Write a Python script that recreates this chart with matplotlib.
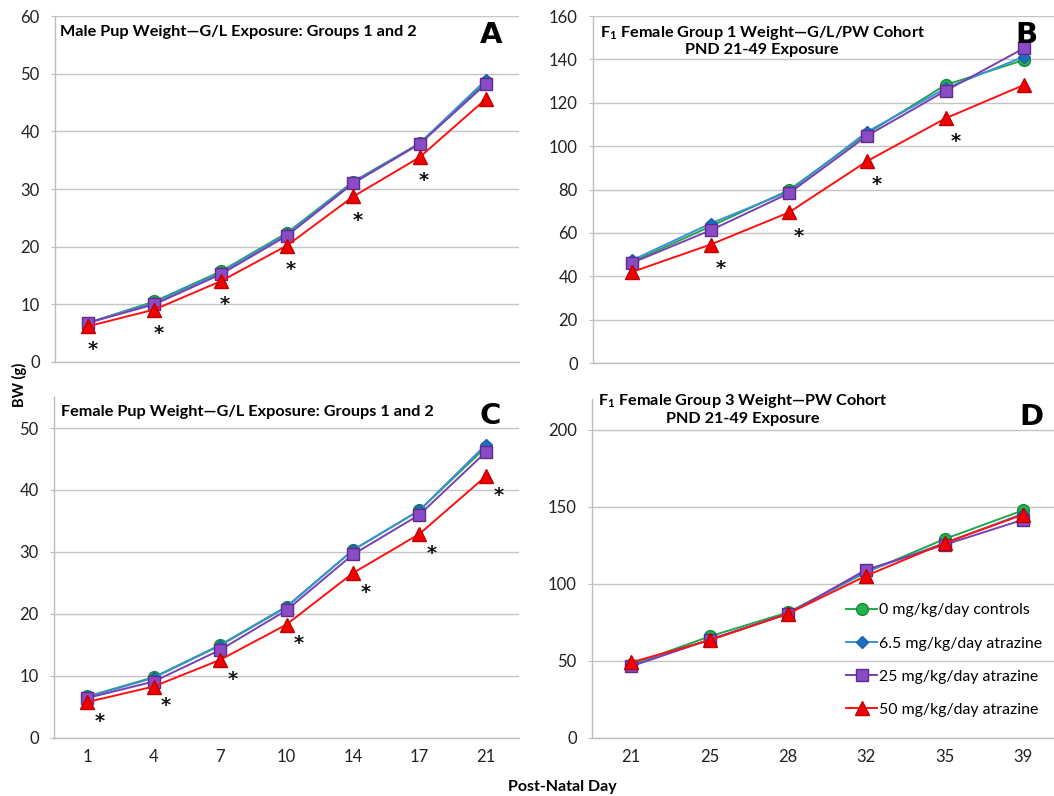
import matplotlib
matplotlib.use("Agg")
import matplotlib.pyplot as plt
from matplotlib.lines import Line2D

plt.rcParams['font.family'] = ['Lato', 'DejaVu Sans']
plt.rcParams['mathtext.fontset'] = 'custom'
plt.rcParams['mathtext.rm'] = 'Lato'
plt.rcParams['mathtext.bf'] = 'Lato:bold'
plt.rcParams['mathtext.it'] = 'Lato:italic'

# ---------------- data ----------------
days_pre = ["1", "4", "7", "10", "14", "17", "21"]
days_post = ["21", "25", "28", "32", "35", "39"]

series_labels = ["0 mg/kg/day controls", "6.5 mg/kg/day atrazine",
                 "25 mg/kg/day atrazine", "50 mg/kg/day atrazine"]

# Panel A: male pups
a_ctrl = [6.8, 10.5, 15.7, 22.4, 31.3, 37.9, 48.6]
a_6_5 = [6.8, 10.3, 15.5, 22.2, 31.2, 37.9, 48.9]
a_25 = [6.8, 10.0, 15.2, 21.9, 31.0, 37.8, 48.2]
a_50 = [6.2, 9.1, 14.0, 20.2, 28.7, 35.5, 45.6]

# Panel B: F1 female group 1
b_ctrl = [46.6, 63.0, 79.7, 105.8, 128.2, 139.7]
b_6_5 = [47.4, 64.3, 79.0, 106.6, 126.6, 141.2]
b_25 = [46.2, 61.2, 78.2, 104.8, 125.5, 145.1]
b_50 = [42.0, 54.6, 69.4, 93.1, 112.8, 128.2]

# Panel C: female pups
c_ctrl = [6.7, 9.8, 15.0, 21.2, 30.3, 36.7, 46.9]
c_6_5 = [6.6, 9.7, 14.9, 21.1, 30.3, 36.7, 47.3]
c_25 = [6.45, 9.1, 14.2, 20.6, 29.6, 36.0, 46.1]
c_50 = [5.8, 8.3, 12.6, 18.3, 26.6, 32.9, 42.2]

# Panel D: F1 female group 3
d_ctrl = [47.6, 65.9, 81.5, 107.5, 129.1, 147.7]
d_6_5 = [47.0, 63.8, 80.6, 108.1, 126.5, 145.5]
d_25 = [46.5, 63.8, 80.6, 109.2, 125.4, 141.6]
d_50 = [49.1, 63.4, 80.6, 105.3, 126.5, 144.9]

# significance markers (index of category with asterisk)
a_sig = [0, 1, 2, 3, 4, 5]
b_sig = [1, 2, 3, 4]
c_sig = [0, 1, 2, 3, 4, 5, 6]
d_sig = []

# ---------------- styles ----------------
styles = [
    dict(color="#1FA84A", marker="o", markersize=8.5, markerfacecolor="#22B24C",
         markeredgecolor="#168A3A"),
    dict(color="#3C8FD8", marker="D", markersize=6.5, markerfacecolor="#1F6FC0",
         markeredgecolor="#1A5FA8"),
    dict(color="#7A3FB0", marker="s", markersize=8.5, markerfacecolor="#8A4CC4",
         markeredgecolor="#5E2A8E"),
    dict(color="#FF1010", marker="^", markersize=10, markerfacecolor="#F00000",
         markeredgecolor="#C00000"),
]

W, H = 1054, 796
fig = plt.figure(figsize=(W / 100, H / 100), dpi=100)


def px_axes(left, right, top, bottom):
    return fig.add_axes([left / W, (H - bottom) / H, (right - left) / W, (bottom - top) / H])


def style_axes(ax, ylim, yticks, cats, show_xlabels):
    ax.set_xlim(-0.5, len(cats) - 0.5)
    ax.set_ylim(*ylim)
    ax.set_yticks(yticks)
    ax.set_xticks(range(len(cats)))
    if show_xlabels:
        ax.set_xticklabels(cats)
    else:
        ax.set_xticklabels([])
    for s in ["top", "right"]:
        ax.spines[s].set_visible(False)
    for s in ["left", "bottom"]:
        ax.spines[s].set_color("#BDBDBD")
        ax.spines[s].set_linewidth(1.0)
    ax.yaxis.grid(True, color="#C4C4C4", linewidth=1.0)
    ax.set_axisbelow(True)
    ax.tick_params(axis="y", length=3, color="#BDBDBD", pad=8, labelsize=12, labelcolor="#222222")
    ax.tick_params(axis="x", length=0, pad=8, labelsize=12, labelcolor="#222222")


def plot_series(ax, data_list, sig, off):
    x = range(len(data_list[0]))
    for vals, st in zip(data_list, styles):
        ax.plot(list(x), vals, linewidth=1.4, **st)
    red = data_list[3]
    for i in sig:
        ax.annotate("*", xy=(i, red[i]), xytext=off, textcoords="offset points",
                    ha="center", va="center", fontsize=14, color="#111111",
                    family="DejaVu Sans", fontweight="bold")


TITLE_FS = 11.7

# Panel A
axA = px_axes(55, 519, 16, 362)
style_axes(axA, (0, 60), range(0, 61, 10), days_pre, False)
plot_series(axA, [a_ctrl, a_6_5, a_25, a_50], a_sig, (3, -17))
axA.text(0.011, 0.954, "Male Pup Weight\u2014G/L Exposure: Groups 1 and 2",
         transform=axA.transAxes, ha="left", va="center", fontsize=TITLE_FS, fontweight="bold")
axA.text(0.94, 0.945, "A", transform=axA.transAxes, ha="center", va="center",
         fontsize=21, fontweight="bold", family="DejaVu Sans")

# Panel B
axB = px_axes(593, 1063, 16, 363)
style_axes(axB, (0, 160), range(0, 161, 20), days_post, False)
plot_series(axB, [b_ctrl, b_6_5, b_25, b_50], b_sig, (7, -17))
axB.text(0.36, 0.929, "F$_\\mathbf{1}$ Female Group 1 Weight\u2014G/L/PW Cohort\nPND 21-49 Exposure",
         transform=axB.transAxes, ha="center", va="center", fontsize=TITLE_FS,
         fontweight="bold", linespacing=1.15, multialignment="center")
axB.text(0.923, 0.945, "B", transform=axB.transAxes, ha="center", va="center",
         fontsize=21, fontweight="bold", family="DejaVu Sans")

# Panel C
axC = px_axes(54, 519, 397, 738)
style_axes(axC, (0, 55), range(0, 51, 10), days_pre, True)
plot_series(axC, [c_ctrl, c_6_5, c_25, c_50], c_sig, (9, -14))
axC.text(0.015, 0.956, "Female Pup Weight\u2014G/L Exposure: Groups 1 and 2",
         transform=axC.transAxes, ha="left", va="center", fontsize=TITLE_FS, fontweight="bold")
axC.text(0.938, 0.944, "C", transform=axC.transAxes, ha="center", va="center",
         fontsize=21, fontweight="bold", family="DejaVu Sans")

# Panel D
axD = px_axes(592, 1062, 399, 738)
style_axes(axD, (0, 220), range(0, 201, 50), days_post, True)
plot_series(axD, [d_ctrl, d_6_5, d_25, d_50], d_sig, (8, -14))
axD.text(0.321, 0.97, "F$_\\mathbf{1}$ Female Group 3 Weight\u2014PW Cohort\nPND 21-49 Exposure",
         transform=axD.transAxes, ha="center", va="center", fontsize=TITLE_FS,
         fontweight="bold", linespacing=1.15, multialignment="center")
axD.text(0.934, 0.947, "D", transform=axD.transAxes, ha="center", va="center",
         fontsize=21, fontweight="bold", family="DejaVu Sans")

handles = [Line2D([0], [0], linewidth=1.4, **st) for st in styles]
axD.legend(handles, series_labels, loc="center left", bbox_to_anchor=(0.54, 0.23),
           frameon=False, fontsize=11.4, handlelength=2.0, handletextpad=0.1,
           labelspacing=1.2, borderpad=0, borderaxespad=0)

fig.text(19 / W, 1 - 385 / H, "BW (g)", rotation=90, ha="center", va="center",
         fontsize=10.5, fontweight="bold")
fig.text(562 / W, 1 - 787 / H, "Post-Natal Day", ha="center", va="center",
         fontsize=11.5, fontweight="bold")

fig.savefig("out.png", dpi=100)
